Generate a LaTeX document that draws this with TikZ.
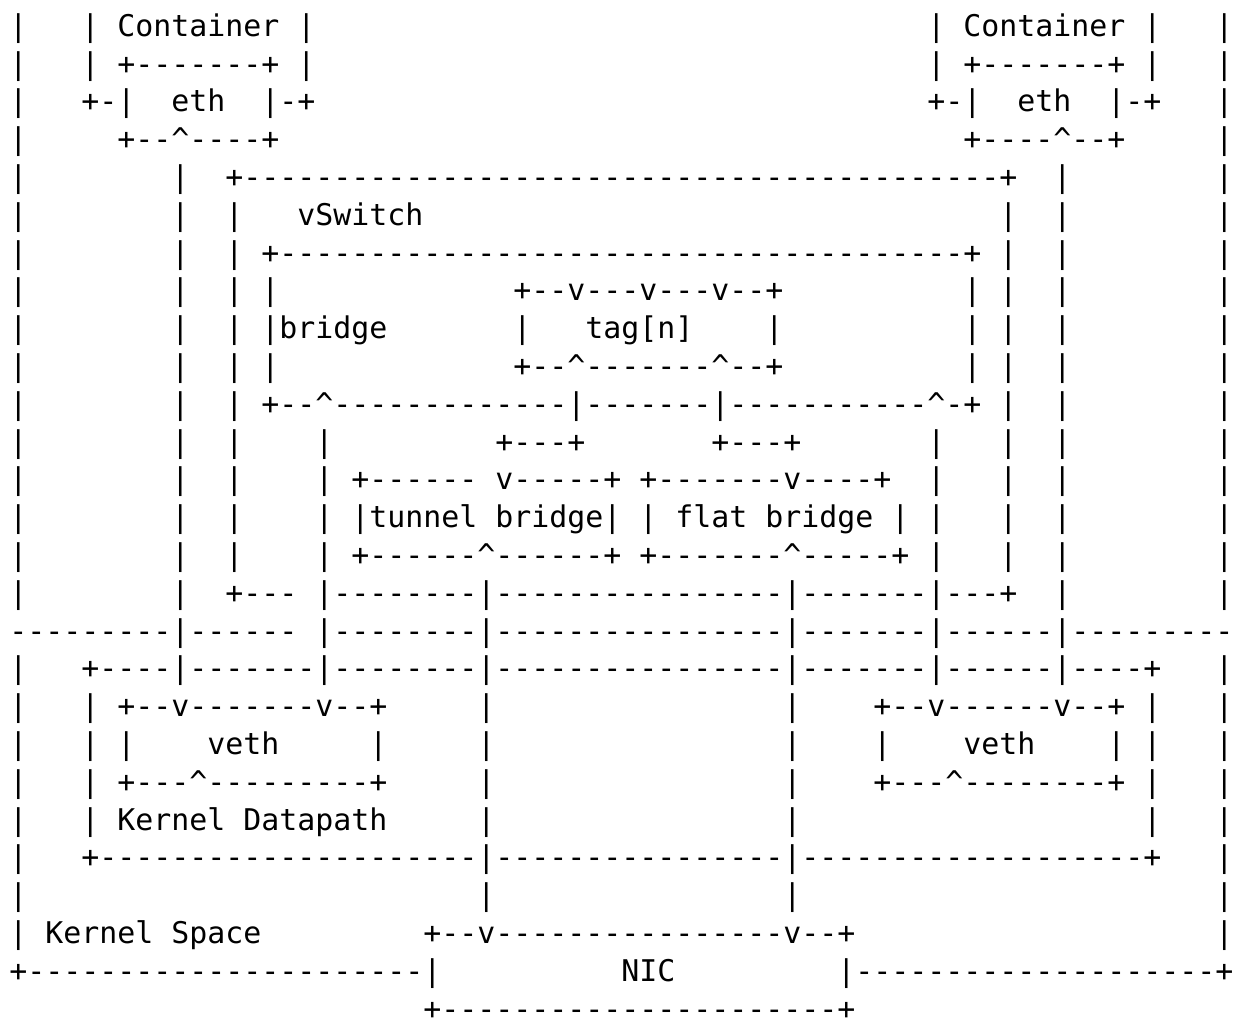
\documentclass[tikz,border=0pt]{standalone}
\usepackage{fontspec}
\setmonofont{DejaVu Sans Mono}
\newcommand\caret{\textasciicircum}
\ExplSyntaxOn
\NewDocumentCommand\dsh{m}{\prg_replicate:nn{#1}{-}}
\ExplSyntaxOff

\begin{document}
\begin{tikzpicture}[x=9pt,y=-18.9pt,
  asc/.style={anchor=base west,inner sep=0pt,yshift=-1.7pt,font=\fontsize{14.95}{18}\selectfont\ttfamily}]
  \useasboundingbox[fill=white] (0,0) rectangle (68.833,26.905);
  \foreach \c/\s in {0/|,4/|,6/Container,16/|,51/|,53/Container,63/|,67/|}
    \node[asc] (r1-\c) at (\c+.5,.87) {\s};
  \foreach \c/\s in {0/|,4/|,6/{+-------+},16/|,51/|,53/{+-------+},63/|,67/|}
    \node[asc] (r2-\c) at (\c+.5,1.87) {\s};
  \foreach \c/\s in {0/|,4/{+-|},9/eth,14/{|-+},51/{+-|},56/eth,61/{|-+},67/|}
    \node[asc] (r3-\c) at (\c+.5,2.87) {\s};
  \foreach \c/\s in {0/|,6/{+--\caret----+},53/{+----\caret--+},67/|}
    \node[asc] (r4-\c) at (\c+.5,3.87) {\s};
  \foreach \c/\s in {0/|,9/|,12/{+\dsh{42}+},58/|,67/|}
    \node[asc] (r5-\c) at (\c+.5,4.87) {\s};
  \foreach \c/\s in {0/|,9/|,12/|,16/vSwitch,55/|,58/|,67/|}
    \node[asc] (r6-\c) at (\c+.5,5.87) {\s};
  \foreach \c/\s in {0/|,9/|,12/|,14/{+\dsh{38}+},55/|,58/|,67/|}
    \node[asc] (r7-\c) at (\c+.5,6.87) {\s};
  \foreach \c/\s in {0/|,9/|,12/|,14/|,28/{+--v---v---v--+},53/|,55/|,58/|,67/|}
    \node[asc] (r8-\c) at (\c+.5,7.87) {\s};
  \foreach \c/\s in {0/|,9/|,12/|,14/{|bridge},28/|,32/{tag[n]},42/|,53/|,55/|,58/|,67/|}
    \node[asc] (r9-\c) at (\c+.5,8.87) {\s};
  \foreach \c/\s in {0/|,9/|,12/|,14/|,28/{+--\caret-------\caret--+},53/|,55/|,58/|,67/|}
    \node[asc] (r10-\c) at (\c+.5,9.87) {\s};
  \foreach \c/\s in {0/|,9/|,12/|,14/{+--\caret\dsh{13}|\dsh7|\dsh{11}\caret-+},55/|,58/|,67/|}
    \node[asc] (r11-\c) at (\c+.5,10.87) {\s};
  \foreach \c/\s in {0/|,9/|,12/|,17/|,27/{+---+},39/{+---+},51/|,55/|,58/|,67/|}
    \node[asc] (r12-\c) at (\c+.5,11.87) {\s};
  \foreach \c/\s in {0/|,9/|,12/|,17/|,19/{+------ v-----+},35/{+-------v----+},51/|,55/|,58/|,67/|}
    \node[asc] (r13-\c) at (\c+.5,12.87) {\s};
  \foreach \c/\s in {0/|,9/|,12/|,17/|,19/{|tunnel bridge|},35/{| flat bridge |},51/|,55/|,58/|,67/|}
    \node[asc] (r14-\c) at (\c+.5,13.87) {\s};
  \foreach \c/\s in {0/|,9/|,12/|,17/|,19/{+------\caret------+},35/{+-------\caret-----+},51/|,55/|,58/|,67/|}
    \node[asc] (r15-\c) at (\c+.5,14.87) {\s};
  \foreach \c/\s in {0/|,9/|,12/{+---},17/{|\dsh8|\dsh{16}|\dsh7|---+},58/|,67/|}
    \node[asc] (r16-\c) at (\c+.5,15.87) {\s};
  \foreach \c/\s in {0/{\dsh9|\dsh6},17/{|\dsh8|\dsh{16}|\dsh7|\dsh6|\dsh9}}
    \node[asc] (r17-\c) at (\c+.5,16.87) {\s};
  \foreach \c/\s in {0/|,4/{+----|\dsh7|\dsh8|\dsh{16}|\dsh7|\dsh6|----+},67/|}
    \node[asc] (r18-\c) at (\c+.5,17.87) {\s};
  \foreach \c/\s in {0/|,4/|,6/{+--v-------v--+},26/|,43/|,48/{+--v------v--+},63/|,67/|}
    \node[asc] (r19-\c) at (\c+.5,18.87) {\s};
  \foreach \c/\s in {0/|,4/|,6/|,11/veth,20/|,26/|,43/|,48/|,53/veth,61/|,63/|,67/|}
    \node[asc] (r20-\c) at (\c+.5,19.87) {\s};
  \foreach \c/\s in {0/|,4/|,6/{+---\caret\dsh9+},26/|,43/|,48/{+---\caret\dsh8+},63/|,67/|}
    \node[asc] (r21-\c) at (\c+.5,20.87) {\s};
  \foreach \c/\s in {0/|,4/|,6/{Kernel Datapath},26/|,43/|,63/|,67/|}
    \node[asc] (r22-\c) at (\c+.5,21.87) {\s};
  \foreach \c/\s in {0/|,4/{+\dsh{21}|\dsh{16}|\dsh{19}+},67/|}
    \node[asc] (r23-\c) at (\c+.5,22.87) {\s};
  \foreach \c/\s in {0/|,26/|,43/|,67/|}
    \node[asc] (r24-\c) at (\c+.5,23.87) {\s};
  \foreach \c/\s in {0/|,2/{Kernel Space},23/{+--v\dsh{16}v--+},67/|}
    \node[asc] (r25-\c) at (\c+.5,24.87) {\s};
  \foreach \c/\s in {0/{+\dsh{22}|},34/NIC,46/{|\dsh{20}+}}
    \node[asc] (r26-\c) at (\c+.5,25.87) {\s};
  \foreach \c/\s in {23/{+\dsh{22}+}}
    \node[asc] (r27-\c) at (\c+.5,26.87) {\s};
\end{tikzpicture}
\end{document}
